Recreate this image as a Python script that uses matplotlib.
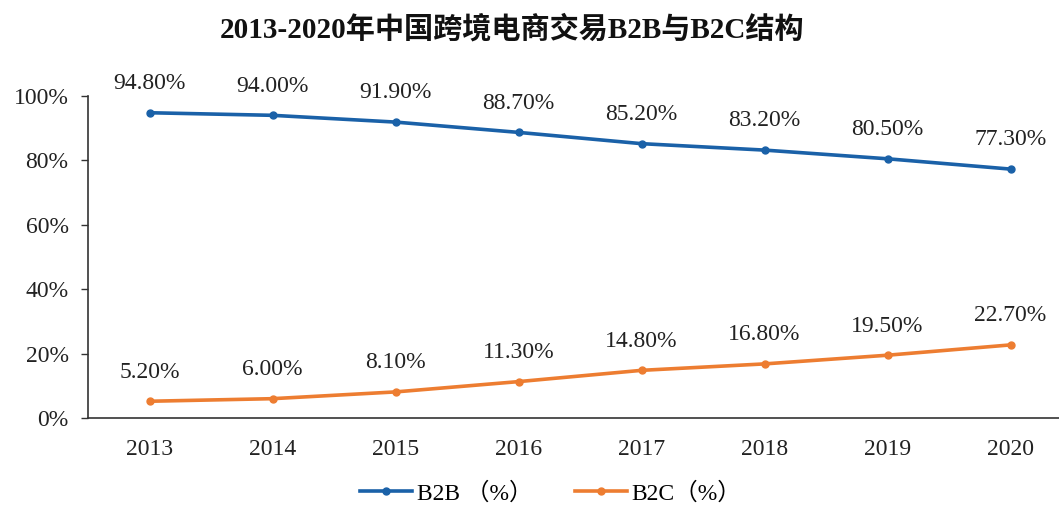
import matplotlib
matplotlib.use("Agg")
import matplotlib.pyplot as plt
from matplotlib.ticker import PercentFormatter

plt.rcParams['font.family'] = ['Liberation Serif', 'Noto Sans CJK SC']

years = ['2013', '2014', '2015', '2016', '2017', '2018', '2019', '2020']
b2b = [94.8, 94.0, 91.9, 88.7, 85.2, 83.2, 80.5, 77.3]
b2c = [5.2, 6.0, 8.1, 11.3, 14.8, 16.8, 19.5, 22.7]
title = '2013-2020年中国跨境电商交易B2B与B2C结构'
series_names = ['B2B （%）', 'B2C（%）']
yticks = [0, 20, 40, 60, 80, 100]

blue = '#1a61a8'
orange = '#ed7d31'

W, H = 1059, 508
fig = plt.figure(figsize=(W / 100, H / 100), dpi=100)
ax = fig.add_axes([88 / W, 90 / H, 984 / W, 322 / H])

x = list(range(len(years)))
l1, = ax.plot(x, b2b, color=blue, lw=2.6, marker='o', ms=5, label=series_names[0])
l2, = ax.plot(x, b2c, color=orange, lw=2.6, marker='o', ms=5, label=series_names[1])

for xi, v in zip(x, b2b):
    ax.annotate(f'{v:.2f}%', (xi, v), xytext=(0, 21), textcoords='offset points',
                ha='center', va='center', fontsize=17, color='#222222')
for xi, v in zip(x, b2c):
    ax.annotate(f'{v:.2f}%', (xi, v), xytext=(0, 21), textcoords='offset points',
                ha='center', va='center', fontsize=17, color='#222222')

ax.set_xlim(-0.5, len(years) - 0.5)
ax.set_ylim(0, 100)
ax.set_yticks(yticks)
ax.yaxis.set_major_formatter(PercentFormatter(decimals=0))
ax.set_xticks(x)
ax.set_xticklabels(years)
ax.tick_params(axis='x', length=0, pad=15, labelsize=17, colors='#222222')
ax.tick_params(axis='y', length=5, width=1, pad=9, labelsize=17, colors='#222222')
ax.tick_params(axis='y', color='#333333')

for s in ['top', 'right']:
    ax.spines[s].set_visible(False)
for s in ['left', 'bottom']:
    ax.spines[s].set_color('#333333')
    ax.spines[s].set_linewidth(1.2)

fig.text(512 / W, 1 - 29 / H, title, ha='center', va='center',
         fontsize=21, fontweight='bold', color='#111111')

fig.legend(handles=[l1, l2], loc='center', bbox_to_anchor=(551 / W, 15 / H),
           ncol=2, frameon=False, fontsize=17, handlelength=2.2,
           columnspacing=1.8, handletextpad=0.2)

fig.savefig('out.png', dpi=100)
